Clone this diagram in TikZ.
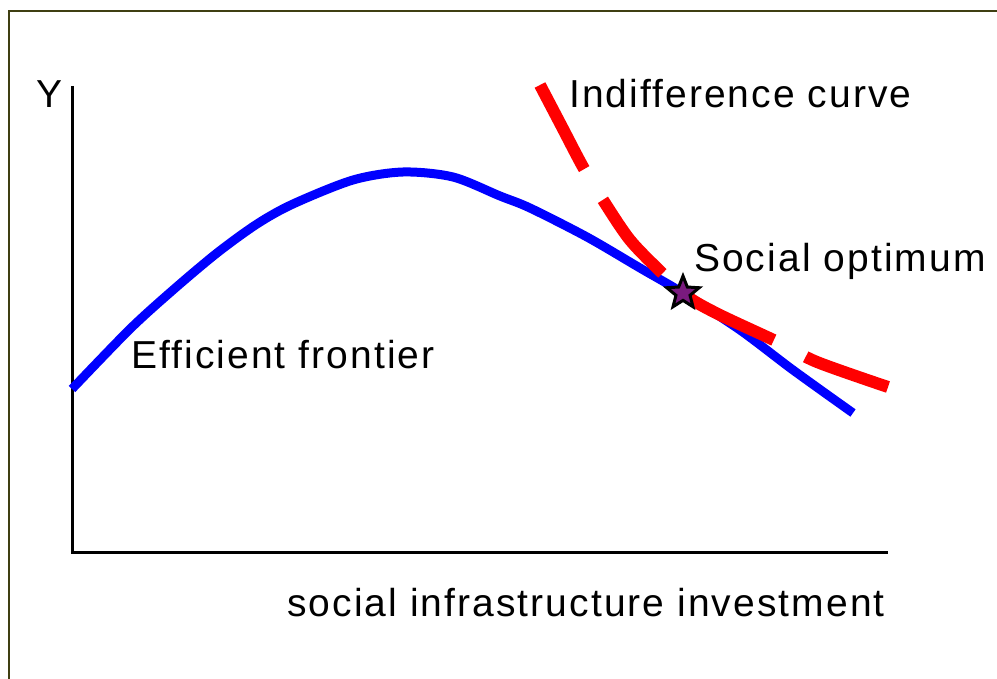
\documentclass[tikz,border=0pt]{standalone}
\usepackage{fontspec}
\setmainfont{Liberation Sans}[LetterSpace=5.3]
\usetikzlibrary{shapes.geometric}
\definecolor{frameol}{HTML}{3F3F12}
\definecolor{optpurple}{HTML}{7A1A7E}
\tikzset{
  lbl/.style={anchor=base west, inner sep=0pt, font=\fontsize{39}{46}\selectfont},
  axisline/.style={line width=3pt, black},
  frontier/.style={line width=9pt, blue, line join=round},
  indiff/.style={line width=12pt, red, dash pattern=on 95pt off 36pt},
}
\begin{document}
\begin{tikzpicture}[x=1pt,y=-1pt]
\useasboundingbox (0,0) rectangle (997,679);
\fill[white] (0,0) rectangle (997,679);
% frame
\draw[frameol, line width=2.5pt] (9,690) -- (9,11) -- (1010,11);
% axes
\coordinate (ytop) at (72,86);
\coordinate (orig) at (72,552);
\coordinate (xend) at (888,552);
\draw[axisline] (ytop) -- (orig) -- (xend);
% efficient frontier
\draw[frontier] plot[smooth, tension=0.5] coordinates {(72,389) (130,329) (173,290) (217,253) (257,224) (293,204) (353,180) (403,172) (453,177) (500,196) (530,208) (587,237) (640,268) (683,293) (740,330) (793,370) (853,413)};
% indifference curve
\draw[indiff] plot[smooth, tension=0.5] coordinates {(540,85) (562,127) (583,167) (603,200) (630,240) (662,273) (688,297) (720,315) (780,343) (817,362) (888,387)};
% social optimum
\node (opt) [star, star points=5, star point ratio=2.3, minimum size=34pt, inner sep=0pt, draw=black, line width=3pt, fill=optpurple] at (683,293) {};
% labels
\node[lbl] (ylab) at (36,108) {Y};
\node[lbl] (ic) at (569,108) {Indifference curve};
\node[lbl] (so) at (694,272) {Social optimum};
\node[lbl] (ef) at (131,368) {Efficient frontier};
\node[lbl] (xlab) at (287,616) {social infrastructure investment};
\end{tikzpicture}
\end{document}
